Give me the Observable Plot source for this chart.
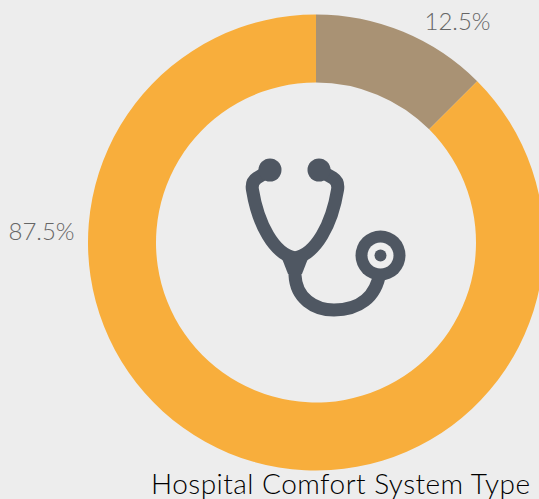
<!DOCTYPE html>
<html>
<head>
<meta charset="utf-8">
<script src="https://cdn.jsdelivr.net/npm/d3@7"></script>
<script src="https://cdn.jsdelivr.net/npm/@observablehq/plot@0.6"></script>
<style>
html,body{margin:0;padding:0;background:#ededed;width:539px;height:499px;overflow:hidden}
svg{display:block;background:#ededed}
#title{position:absolute;left:151px;top:467px;font:300 28px Lato,sans-serif;color:#000;white-space:nowrap;letter-spacing:.47px;line-height:32px}
</style>
</head>
<body>
<div id="chart"></div>
<div id="title"></div>
<script>
const titleText = "Hospital Comfort System Type";
const labels = ["12.5%", "87.5%"];
const shares = [12.5, 87.5];
const colors = ["#a99274", "#f8ae3c"];
const rows = labels.map((label, i) => ({label, share: shares[i]}));

const cx = 316, cy = 242.5, outer = 228, inner = 160;
const NS = "http://www.w3.org/2000/svg";

function stethoscope() {
  const g = document.createElementNS(NS, "g");
  const ink = "#4f5762";
  const add = (tag, attrs) => {
    const el = document.createElementNS(NS, tag);
    for (const k in attrs) el.setAttribute(k, attrs[k]);
    g.appendChild(el);
  };
  const tube = {fill: "none", stroke: ink, "stroke-width": 13, "stroke-linejoin": "round", "stroke-linecap": "round"};
  add("path", {...tube, d: "M270 170 L257 178 Q251 182 252.5 190 C258 224 274 254 295 258 C316 254 332 224 337.5 190 Q339 182 333 178 L319 170"});
  add("path", {...tube, d: "M295 262 L295 275 C296 298 314 310 334 310 C358 310 376 298 380 272"});
  add("path", {fill: ink, d: "M281 256 L309 256 L302 274 L288 274 Z"});
  add("circle", {cx: 270, cy: 170, r: 11.5, fill: ink});
  add("circle", {cx: 319, cy: 170, r: 11.5, fill: ink});
  add("circle", {cx: 380.5, cy: 255.5, r: 25, fill: ink});
  add("circle", {cx: 380.5, cy: 255.5, r: 13, fill: "#eeeeee"});
  add("circle", {cx: 380.5, cy: 255.5, r: 6, fill: ink});
  return g;
}

const font = {fontFamily: "Lato, sans-serif", fontWeight: 300, fontSize: 24, fill: "#666666"};

const plot = Plot.plot({
  width: 539,
  height: 472,
  margin: 0,
  style: {background: "#ededed", overflow: "hidden"},
  x: {domain: [0, 100], range: [0, 2 * Math.PI], axis: null},
  color: {domain: labels, range: colors},
  marks: [
    Plot.barX(rows, {
      x: "share",
      fill: "label",
      order: null,
      render(index, scales, values) {
        const g = document.createElementNS(NS, "g");
        const arc = d3.arc().innerRadius(inner).outerRadius(outer);
        for (const i of index) {
          const p = document.createElementNS(NS, "path");
          p.setAttribute("d", arc({startAngle: values.x1[i], endAngle: values.x2[i]}));
          p.setAttribute("transform", `translate(${cx},${cy})`);
          p.setAttribute("fill", values.fill[i]);
          g.appendChild(p);
        }
        return g;
      }
    }),
    Plot.text([labels[0]], {text: d => d, frameAnchor: "top-left", textAnchor: "middle", lineAnchor: "middle", dx: 457, dy: 22, ...font}),
    Plot.text([labels[1]], {text: d => d, frameAnchor: "top-left", textAnchor: "middle", lineAnchor: "middle", dx: 41, dy: 232, ...font}),
    stethoscope
  ]
});
document.getElementById("chart").appendChild(plot);
document.getElementById("title").textContent = titleText;
</script>
</body>
</html>
